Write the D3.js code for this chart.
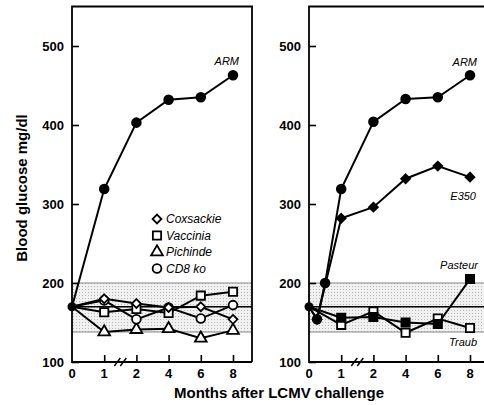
<!DOCTYPE html>
<html>
<head>
<meta charset="utf-8">
<script src="https://cdn.jsdelivr.net/npm/d3@7"></script>
<style>
  body { margin: 0; background: #fff; }
  text { font-family: "Liberation Sans", Arial, sans-serif; }
</style>
</head>
<body>
<div id="chart"></div>
<script>
// months after challenge; the axis is broken between 1 and 2
const months = [0, 1, 2, 4, 6, 8];
const yTicks = [100, 200, 300, 400, 500];

// left panel
const leftArm = [170, 319, 403, 432, 435, 463];
const coxsackie = [170, 180, 174, 169, 170, 154];
const vaccinia = [170, 163, 167, 162, 184, 189];
const pichinde = [170, 138, 141, 142, 130, 140];
const cd8ko = [170, 178, 154, 169, 155, 172];

// right panel (ARM and E350 have extra early points)
const rightArmMonths = [0, 0.25, 0.5, 1, 2, 4, 6, 8];
const rightArm = [170, 154, 200, 319, 404, 433, 435, 463];
const e350Months = [0, 0.25, 1, 2, 4, 6, 8];
const e350 = [170, 154, 282, 296, 332, 348, 334];
const pasteur = [170, 156, 157, 150, 148, 205];
const traub = [170, 147, 164, 137, 155, 143];

const normalLow = 138, normalHigh = 200, normalMid = 170;

const width = 484, height = 405;
const plotTop = 6.5, plotBottom = 362, step = 32.2;

const svg = d3.select("#chart").append("svg")
    .attr("width", width)
    .attr("height", height);

const defs = svg.append("defs");
const pat = defs.append("pattern")
    .attr("id", "dots")
    .attr("width", 3).attr("height", 3)
    .attr("patternUnits", "userSpaceOnUse");
pat.append("rect").attr("width", 3).attr("height", 3).attr("fill", "#f1f1f1");
pat.append("rect").attr("x", 1).attr("y", 1).attr("width", 1).attr("height", 1).attr("fill", "#b8b8b8");

const y = d3.scaleLinear().domain([100, 550]).range([plotBottom, plotTop]);

const symbols = {
    circle: d3.symbol().type(d3.symbolCircle).size(60),
    diamond: d3.symbol().type(d3.symbolDiamond2).size(50),
    square: d3.symbol().type(d3.symbolSquare).size(68),
    triangle: d3.symbol().type(d3.symbolTriangle).size(60)
};

function drawPanel(x0, x1) {
    const g = svg.append("g");
    const x = d3.scaleLinear().domain([0, 1, 2, 8]).range([x0, x0 + step, x0 + 2 * step, x0 + 5 * step]);

    // normal range band
    g.append("rect")
        .attr("x", x0).attr("y", y(normalHigh))
        .attr("width", x1 - x0).attr("height", y(normalLow) - y(normalHigh))
        .attr("fill", "url(#dots)");
    [normalHigh, normalLow].forEach(v => {
        g.append("line").attr("x1", x0).attr("x2", x1)
            .attr("y1", y(v)).attr("y2", y(v))
            .attr("stroke", "#888").attr("stroke-width", 1.2);
    });
    g.append("line").attr("x1", x0).attr("x2", x1)
        .attr("y1", y(normalMid)).attr("y2", y(normalMid))
        .attr("stroke", "#000").attr("stroke-width", 1.6);

    // y axis, ticks pointing inward
    const yAxis = g.append("g")
        .attr("transform", `translate(${x0},0)`)
        .call(d3.axisRight(y).tickValues(yTicks).tickSize(7).tickFormat(""));
    yAxis.select(".domain").remove();
    yAxis.selectAll("line").attr("stroke-width", 1.6);
    g.selectAll(null).data(yTicks).join("text")
        .attr("x", x0 - 8).attr("y", d => y(d) + 5)
        .attr("text-anchor", "end")
        .attr("font-size", 13).attr("font-weight", "bold")
        .text(d => d);

    // x axis
    const xAxis = g.append("g")
        .attr("transform", `translate(0,${plotBottom})`)
        .call(d3.axisTop(x).tickValues(months.slice(1)).tickSize(7).tickFormat(""));
    xAxis.select(".domain").remove();
    xAxis.selectAll("line").attr("stroke-width", 1.6);
    g.selectAll(null).data(months).join("text")
        .attr("x", d => x(d)).attr("y", plotBottom + 16)
        .attr("text-anchor", "middle")
        .attr("font-size", 13).attr("font-weight", "bold")
        .text(d => d);

    // axis break
    const bx = (x(1) + x(2)) / 2;
    [-3, 3].forEach(dx => {
        g.append("line")
            .attr("x1", bx + dx - 3).attr("y1", plotBottom + 4)
            .attr("x2", bx + dx + 3).attr("y2", plotBottom - 4)
            .attr("stroke", "#000").attr("stroke-width", 1.4);
    });

    // frame
    g.append("path")
        .attr("d", `M${x1},${plotBottom}H${x0}V${plotTop}H${x1}` + (x1 < width ? `V${plotBottom}` : ""))
        .attr("fill", "none").attr("stroke", "#000").attr("stroke-width", 1.8);

    return { g, x };
}

function drawSeries(p, xs, ys, shape, filled) {
    const pts = xs.map((m, i) => [p.x(m), y(ys[i])]);
    p.g.append("path")
        .attr("d", d3.line()(pts))
        .attr("fill", "none").attr("stroke", "#000").attr("stroke-width", 2);
    p.g.selectAll(null).data(pts.slice(1)).join("path")
        .attr("transform", d => `translate(${d[0]},${d[1]})`)
        .attr("d", symbols[shape]())
        .attr("fill", filled ? "#000" : "#fff")
        .attr("stroke", "#000").attr("stroke-width", 1.8);
}

function label(p, px, py, txt) {
    p.g.append("text")
        .attr("x", px).attr("y", py)
        .attr("text-anchor", "end")
        .attr("font-size", 11).attr("font-style", "italic")
        .text(txt);
}

// left panel
const left = drawPanel(72, 252);
drawSeries(left, months, pichinde, "triangle", false);
drawSeries(left, months, cd8ko, "circle", false);
drawSeries(left, months, vaccinia, "square", false);
drawSeries(left, months, coxsackie, "diamond", false);
drawSeries(left, months, leftArm, "circle", true);
left.g.append("circle").attr("cx", left.x(0)).attr("cy", y(normalMid)).attr("r", 4.5);
label(left, 239, 65, "ARM");

const legend = [["diamond", "Coxsackie"], ["square", "Vaccinia"], ["triangle", "Pichinde"], ["circle", "CD8 ko"]];
legend.forEach((d, i) => {
    const ly = 219 + i * 16.5;
    left.g.append("path")
        .attr("transform", `translate(157,${ly})`)
        .attr("d", symbols[d[0]]())
        .attr("fill", "#fff").attr("stroke", "#000").attr("stroke-width", 1.8);
    left.g.append("text")
        .attr("x", 166).attr("y", ly + 4)
        .attr("font-size", 12).attr("font-style", "italic")
        .text(d[1]);
});

// right panel
const right = drawPanel(309, 490);
drawSeries(right, months, traub, "square", false);
drawSeries(right, months, pasteur, "square", true);
drawSeries(right, e350Months, e350, "diamond", true);
drawSeries(right, rightArmMonths, rightArm, "circle", true);
right.g.append("circle").attr("cx", right.x(0)).attr("cy", y(normalMid)).attr("r", 4.5);
label(right, 477, 66, "ARM");
label(right, 476, 200, "E350");
label(right, 478, 269, "Pasteur");
label(right, 477, 346, "Traub");

// axis titles
svg.append("text")
    .attr("x", 279).attr("y", 398)
    .attr("text-anchor", "middle")
    .attr("font-size", 15).attr("font-weight", "bold")
    .text("Months after LCMV challenge");
svg.append("text")
    .attr("transform", "translate(27,188) rotate(-90)")
    .attr("text-anchor", "middle")
    .attr("font-size", 15).attr("font-weight", "bold")
    .text("Blood glucose mg/dl");
</script>
</body>
</html>
